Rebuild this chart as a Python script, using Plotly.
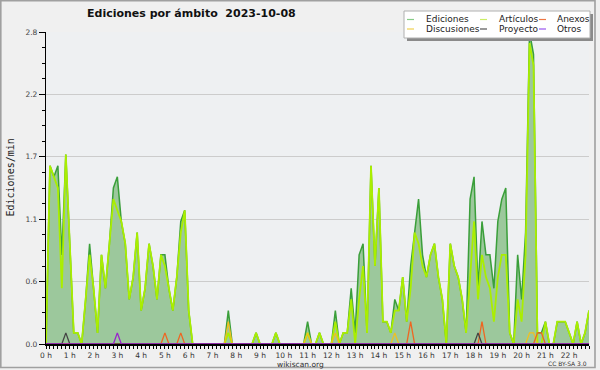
import plotly.graph_objects as go

# ---------------- data (edits per minute, 10-minute slots, 00:00 .. 22:50) ----------------
ediciones = [
    0, 1.6, 1.5, 1.6, 0.8, 1.7,
    0.9, 0.1, 0.1, 0, 0.4, 0.9,
    0.5, 0.1, 0.8, 0.5, 0.9, 1.4,
    1.5, 1.1, 0.9, 0.4, 0.6, 1.0,
    0.3, 0.5, 0.9, 0.7, 0.4, 0.8,
    0.8, 0.5, 0.3, 0.6, 1.1, 1.2,
    0.3, 0, 0, 0, 0, 0,
    0, 0, 0, 0, 0.3, 0,
    0, 0, 0, 0, 0, 0.1,
    0, 0, 0, 0, 0.1, 0,
    0, 0, 0, 0, 0, 0,
    0.2, 0, 0, 0.1, 0, 0,
    0, 0.3, 0, 0.1, 0.1, 0.5,
    0.1, 0.8, 0.9, 0.1, 1.6, 0.7,
    1.4, 0.2, 0.2, 0.1, 0.4, 0.3,
    0.6, 0.2, 0.7, 1.0, 1.3, 0.8,
    0.6, 0.8, 0.9, 0.6, 0.4, 0,
    0.9, 0.7, 0.6, 0.4, 0.1, 1.3,
    1.5, 0.5, 1.1, 0.8, 0.8, 0.5,
    1.1, 1.3, 1.4, 0.1, 0, 0.8,
    0.4, 1.0, 2.8, 2.6, 0.1, 0.1,
    0.2, 0, 0, 0.2, 0.2, 0.2,
    0.1, 0, 0.2, 0, 0.1, 0.3,
]
articulos = [
    0, 1.6, 1.5, 1.4, 0.5, 1.7,
    0.9, 0.1, 0.1, 0, 0.4, 0.8,
    0.5, 0.1, 0.8, 0.5, 0.9, 1.3,
    1.2, 1.1, 0.9, 0.4, 0.6, 1.0,
    0.3, 0.5, 0.9, 0.7, 0.4, 0.8,
    0.7, 0.5, 0.3, 0.6, 1.0, 1.2,
    0.3, 0, 0, 0, 0, 0,
    0, 0, 0, 0, 0.1, 0,
    0, 0, 0, 0, 0, 0.1,
    0, 0, 0, 0, 0.1, 0,
    0, 0, 0, 0, 0, 0,
    0.1, 0, 0, 0.1, 0, 0,
    0, 0.2, 0, 0.1, 0.1, 0.4,
    0, 0.4, 0.7, 0.1, 1.6, 0.7,
    1.4, 0.2, 0.2, 0.1, 0.3, 0.3,
    0.6, 0.2, 0.5, 1.0, 0.9, 0.7,
    0.6, 0.8, 0.9, 0.6, 0.4, 0,
    0.9, 0.7, 0.6, 0.4, 0.1, 0.6,
    1.1, 0.4, 0.8, 0.6, 0.5, 0.2,
    0.6, 0.8, 0.8, 0.1, 0, 0.4,
    0.2, 0.8, 2.7, 2.5, 0, 0,
    0.2, 0, 0, 0.2, 0.2, 0.2,
    0.1, 0, 0.2, 0, 0.1, 0.3,
]
zeros_hour = [0, 0, 0, 0, 0, 0]
discusiones = (zeros_hour * 7 + [0, 0, 0, 0, 0.2, 0] + zeros_hour * 3 +
               [0.1, 0, 0, 0, 0, 0] + [0, 0.1, 0, 0, 0, 0] + zeros_hour +
               [0, 0, 0, 0, 0.1, 0] + zeros_hour * 5 + [0, 0, 0.1, 0.1, 0, 0] + zeros_hour * 2)
anexos = (zeros_hour * 5 + [0.1, 0, 0, 0, 0.1, 0] + zeros_hour * 9 +
          [0, 0, 0.2, 0, 0, 0] + zeros_hour * 2 + [0, 0, 0.2, 0, 0, 0] + zeros_hour +
          [0, 0, 0, 0, 0.1, 0.1] + zeros_hour * 2)
proyecto = ([0, 0, 0, 0, 0, 0.1] + zeros_hour * 17 + [0, 0.1, 0, 0, 0, 0] + zeros_hour * 4)
otros = (zeros_hour * 3 + [0.1, 0, 0, 0, 0, 0] + zeros_hour * 19)

hours = [i / 6 for i in range(len(ediciones))]
hour_ticks = list(range(23))
hour_labels = [f"{h} h" for h in hour_ticks]
y_ticks = [0, 0.56, 1.12, 1.68, 2.24, 2.8]
y_labels = ["0.0", "0.6", "1.1", "1.7", "2.2", "2.8"]

# ---------------- geometry helpers (pixel -> paper) ----------------
W, H = 600, 370
L, R, T, B = 46, 11, 32, 26
PW, PH = W - L - R, H - T - B


def px(x):
    return (x - L) / PW


def py(y):
    return (H - B - y) / PH


FONT = "DejaVu Sans"

fig = go.Figure()
fig.add_trace(go.Scatter(x=hours, y=ediciones, name="Ediciones", mode="lines",
                         line=dict(color="#3a9f3a", width=1.5),
                         fill="tozeroy", fillcolor="#9cc89c"))
fig.add_trace(go.Scatter(x=hours, y=articulos, name="Artículos", mode="lines",
                         line=dict(color="#aaee00", width=1.8)))
fig.add_trace(go.Scatter(x=hours, y=discusiones, name="Discusiones", mode="lines",
                         line=dict(color="#f0c020", width=1.3)))
fig.add_trace(go.Scatter(x=hours, y=anexos, name="Anexos", mode="lines",
                         line=dict(color="#ee6622", width=1.3)))
fig.add_trace(go.Scatter(x=hours, y=proyecto, name="Proyecto", mode="lines",
                         line=dict(color="#444444", width=1.3)))
fig.add_trace(go.Scatter(x=hours, y=otros, name="Otros", mode="lines",
                         line=dict(color="#9922cc", width=1.3)))

x_minor = [i / 6 for i in range(len(ediciones)) if i % 6]
y_minor = [k * 0.14 for k in range(21) if k % 4]

shapes = []
# outer frame
shapes.append(dict(type="rect", xref="paper", yref="paper",
                   x0=px(0.8), x1=px(595), y0=py(367.5), y1=py(0.8),
                   line=dict(color="#a0a0a0", width=1.6), fillcolor="rgba(0,0,0,0)", layer="above"))
# legend box with shadow
shapes.append(dict(type="rect", xref="paper", yref="paper",
                   x0=px(407), x1=px(593), y0=py(41), y1=py(14),
                   line=dict(width=0), fillcolor="#8a8a8a", layer="above"))
shapes.append(dict(type="rect", xref="paper", yref="paper",
                   x0=px(404), x1=px(590), y0=py(38), y1=py(11),
                   line=dict(color="#b0b0b0", width=1), fillcolor="#ffffff", layer="above"))

legend_items = [
    ("Ediciones", "#88cc88", 407, 424, 19.5),
    ("Discusiones", "#f0d050", 407, 424, 29),
    ("Artículos", "#ccee66", 480, 497, 19.5),
    ("Proyecto", "#555555", 480, 497, 29),
    ("Anexos", "#ee7744", 539, 555, 19.5),
    ("Otros", "#9955ee", 539, 555, 29),
]
annotations = []
for name, col, lx, tx, yy in legend_items:
    shapes.append(dict(type="line", xref="paper", yref="paper",
                       x0=px(lx), x1=px(lx + 7), y0=py(yy), y1=py(yy),
                       line=dict(color=col, width=1.2), layer="above"))
    annotations.append(dict(text=name, xref="paper", yref="paper", x=px(tx), y=py(yy),
                            xanchor="left", yanchor="middle", showarrow=False,
                            font=dict(family=FONT, size=9, color="#222")))

annotations += [
    dict(text="<b>Ediciones por ámbito  2023-10-08</b>", xref="paper", yref="paper",
         x=px(85), y=py(13.5), xanchor="left", yanchor="middle", showarrow=False,
         font=dict(family=FONT, size=11, color="#111")),
    dict(text="Ediciones/min", xref="paper", yref="paper", x=px(9.5), y=py(178),
         xanchor="center", yanchor="middle", textangle=-90, showarrow=False,
         font=dict(family="DejaVu Sans Mono", size=10, color="#222")),
    dict(text="wikiscan.org", xref="paper", yref="paper", x=px(300.5), y=py(364),
         xanchor="center", yanchor="middle", showarrow=False,
         font=dict(family=FONT, size=7.5, color="#333")),
    dict(text="CC BY-SA 3.0", xref="paper", yref="paper", x=px(589), y=py(363.5),
         xanchor="right", yanchor="middle", showarrow=False,
         font=dict(family=FONT, size=6, color="#333")),
]

fig.update_layout(
    width=W, height=H,
    margin=dict(l=L, r=R, t=T, b=B, pad=0),
    paper_bgcolor="#f0f0f0", plot_bgcolor="#eef0f2",
    showlegend=False,
    shapes=shapes, annotations=annotations,
    xaxis=dict(range=[0, hours[-1]], tickmode="array", tickvals=hour_ticks, ticktext=hour_labels,
               ticks="outside", ticklen=3, tickwidth=1, tickcolor="#000",
               showline=True, linecolor="#000", linewidth=2, showgrid=False, zeroline=False,
               tickfont=dict(family=FONT, size=7.5, color="#333"),
               minor=dict(tickmode="array", tickvals=x_minor, ticks="outside", ticklen=3,
                          tickcolor="#000", tickwidth=1, showgrid=False)),
    yaxis=dict(range=[0, 2.8], tickmode="array", tickvals=y_ticks, ticktext=y_labels,
               ticks="outside", ticklen=6, tickwidth=1, tickcolor="#000",
               showline=True, linecolor="#000", linewidth=1.3,
               showgrid=True, gridcolor="#cccccc", gridwidth=1, zeroline=False,
               tickfont=dict(family=FONT, size=7.5, color="#444"),
               minor=dict(tickmode="array", tickvals=y_minor, ticks="outside", ticklen=3,
                          tickcolor="#000", tickwidth=1, showgrid=False)),
)

fig.write_html("out.html", config={"displayModeBar": False},
               post_script="document.body.style.margin='0px';document.body.style.overflow='hidden';")
